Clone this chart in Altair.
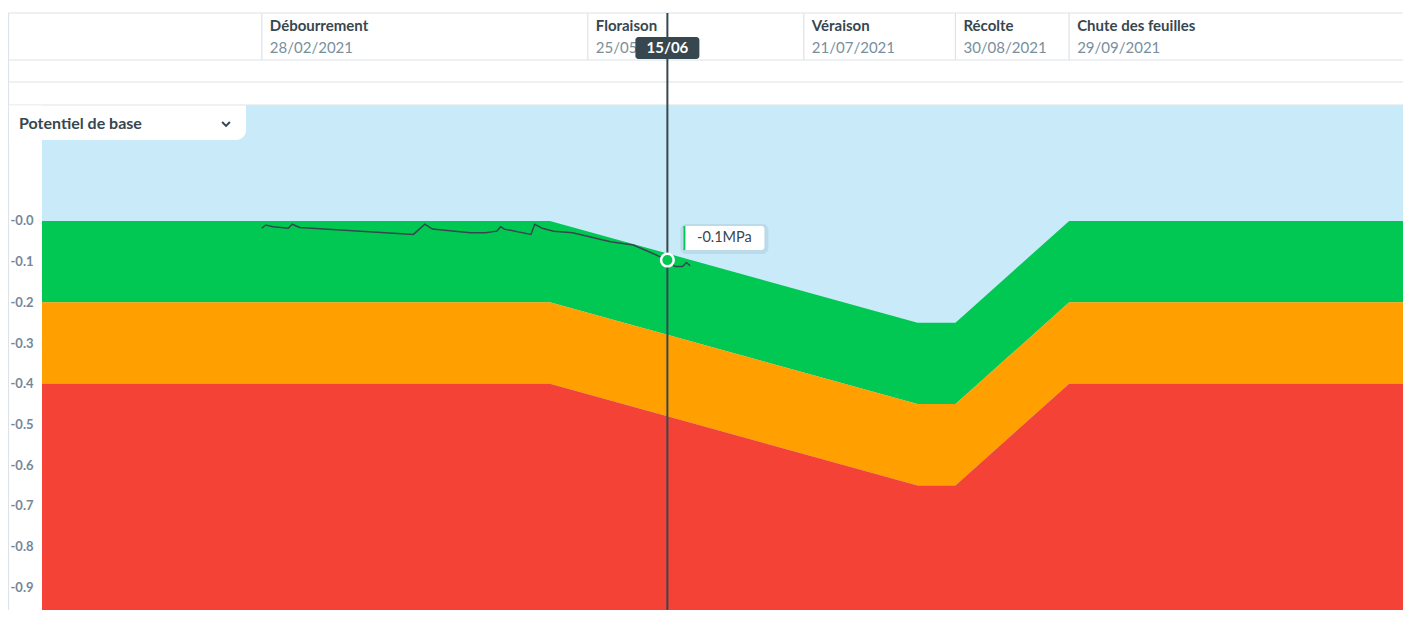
import altair as alt
import pandas as pd

# ---------------- data ----------------
zone_dates = ["2021-01-01", "2021-05-15", "2021-08-20", "2021-08-30", "2021-09-29", "2021-12-28"]
green_top = [0.0, 0.0, -0.25, -0.25, 0.0, 0.0]
orange_top = [-0.2, -0.2, -0.45, -0.45, -0.2, -0.2]
red_top = [-0.4, -0.4, -0.65, -0.65, -0.4, -0.4]
red_bottom = [-1.0, -1.0, -1.0, -1.0, -1.0, -1.0]

stage_names = ["Débourrement", "Floraison", "Véraison", "Récolte", "Chute des feuilles"]
stage_dates = ["2021-02-28", "2021-05-25", "2021-07-21", "2021-08-30", "2021-09-29"]
stage_labels = ["28/02/2021", "25/05/2021", "21/07/2021", "30/08/2021", "29/09/2021"]

pot_dates = ["2021-02-28", "2021-03-01", "2021-03-03", "2021-03-07", "2021-03-08", "2021-03-10",
             "2021-04-09", "2021-04-12", "2021-04-14", "2021-04-24", "2021-04-28", "2021-05-01",
             "2021-05-02", "2021-05-03", "2021-05-10", "2021-05-11", "2021-05-13", "2021-05-16",
             "2021-05-21", "2021-05-31", "2021-06-06", "2021-06-10", "2021-06-15", "2021-06-17",
             "2021-06-19", "2021-06-20", "2021-06-21"]
pot_values = [-0.018, -0.010, -0.014, -0.018, -0.008, -0.016,
              -0.033, -0.008, -0.020, -0.029, -0.029, -0.025,
              -0.014, -0.020, -0.033, -0.008, -0.018, -0.025,
              -0.029, -0.051, -0.059, -0.075, -0.096, -0.112,
              -0.112, -0.102, -0.110]

cursor_dates = ["2021-06-15"]
cursor_labels = ["15/06"]
cursor_values = [-0.096]
cursor_texts = ["-0.1MPa"]

y_ticks = [-0.9, -0.8, -0.7, -0.6, -0.5, -0.4, -0.3, -0.2, -0.1, 0.0]
selector_label = ["Potentiel de base"]

# ---------------- styling ----------------
FONT = "Lato"
DARK = "#37474f"
GREY = "#78909c"
LINE = "#dde3e8"
SKY = "#c9eaf9"
W, H = 1361, 505

zones = pd.DataFrame({"date": zone_dates, "g": green_top, "o": orange_top, "r": red_top, "b": red_bottom})
stages = pd.DataFrame({"date": stage_dates, "name": stage_names, "label": stage_labels})
pot = pd.DataFrame({"date": pot_dates, "v": pot_values})
cur = pd.DataFrame({"date": cursor_dates, "label": cursor_labels, "v": cursor_values, "txt": cursor_texts})
one = pd.DataFrame({"label": selector_label})

xscale = alt.Scale(type="utc", nice=False,
                   domain=[alt.DateTime(year=2021, month=1, date=1, utc=True),
                           alt.DateTime(year=2021, month=12, date=26, hours=2, utc=True)])
yscale = alt.Scale(domain=[-0.956, 0.285], nice=False, zero=False)
yaxis = alt.Axis(values=y_ticks, labelExpr="'-' + format(abs(datum.value), '.1f')",
                 ticks=False, domain=False, grid=False, title=None,
                 labelAlign="left", labelPadding=32, labelFont=FONT, labelFontSize=13,
                 labelFontWeight="bold", labelColor="#74879a")


def X(f="date"):
    return alt.X(f + ":T", scale=xscale, axis=None)


def Y(f):
    return alt.Y(f + ":Q", scale=yscale, axis=yaxis)


sky = alt.Chart(one).mark_rect(color=SKY).encode(
    x=alt.value(0), x2=alt.value(W), y=alt.value(0), y2=alt.value(H))


def band(top, bot, color):
    return alt.Chart(zones).mark_area(color=color, clip=True, interpolate="linear").encode(
        x=X(), y=Y(top), y2=bot)


green = band("g", "o", "#00c853")
orange = band("o", "r", "#ffa000")
red = band("r", "b", "#f44336")


def hline(ypix):
    return alt.Chart(one).mark_rule(color=LINE, strokeWidth=1.2).encode(
        x=alt.value(-33.5), x2=alt.value(W), y=alt.value(ypix))


hlines = [hline(-92), hline(-45), hline(-23), hline(0)]
left_border = alt.Chart(one).mark_rule(color=LINE, strokeWidth=1.2).encode(
    x=alt.value(-33.5), y=alt.value(-92), y2=alt.value(H))

col_lines = alt.Chart(stages).mark_rule(color=LINE, strokeWidth=1.2).encode(
    x=X(), y=alt.value(-92), y2=alt.value(-45))
stage_name_txt = alt.Chart(stages).mark_text(
    align="left", baseline="middle", dx=8, font=FONT, fontSize=15, fontWeight="bold", color=DARK
).encode(x=X(), y=alt.value(-79), text="name:N")
stage_date_txt = alt.Chart(stages).mark_text(
    align="left", baseline="middle", dx=8, font=FONT, fontSize=15, color=GREY
).encode(x=X(), y=alt.value(-57), text="label:N")

pot_line = alt.Chart(pot).mark_line(color=DARK, strokeWidth=1.5).encode(x=X(), y=Y("v"))

cursor_rule = alt.Chart(cur).mark_rule(color=DARK, strokeWidth=2).encode(
    x=X(), y=alt.value(-92), y2=alt.value(H))
cursor_box = alt.Chart(cur).mark_rect(color=DARK, xOffset=-32, x2Offset=32, cornerRadius=3).encode(
    x=X(), x2="date:T", y=alt.value(-68), y2=alt.value(-46))
cursor_txt = alt.Chart(cur).mark_text(
    align="center", baseline="middle", font=FONT, fontSize=15, fontWeight="bold", color="white"
).encode(x=X(), y=alt.value(-57), text="label:N")

point = alt.Chart(cur).mark_point(filled=True, size=160, color="#00c853", stroke="white",
                                  strokeWidth=2.5, opacity=1).encode(x=X(), y=Y("v"))

tip_shadow = alt.Chart(cur).mark_rect(color="#8aa4b4", opacity=0.22, xOffset=13, x2Offset=101,
                                      yOffset=-36, y2Offset=-6, cornerRadius=6).encode(
    x=X(), x2="date:T", y=Y("v"), y2="v:Q")
tip_box = alt.Chart(cur).mark_rect(color="white", xOffset=16, x2Offset=97,
                                   yOffset=-34, y2Offset=-10, cornerRadius=3).encode(
    x=X(), x2="date:T", y=Y("v"), y2="v:Q")
tip_bar = alt.Chart(cur).mark_rect(color="#00c853", xOffset=16, x2Offset=18,
                                   yOffset=-34, y2Offset=-10).encode(
    x=X(), x2="date:T", y=Y("v"), y2="v:Q")
tip_txt = alt.Chart(cur).mark_text(
    align="center", baseline="middle", dx=57, dy=-22, font=FONT, fontSize=14.5, color=DARK
).encode(x=X(), y=Y("v"), text="txt:N")

sel_box = alt.Chart(one).mark_rect(color="white", cornerRadiusBottomRight=10).encode(
    x=alt.value(-33), x2=alt.value(204), y=alt.value(0.6), y2=alt.value(35))
sel_txt = alt.Chart(one).mark_text(
    align="left", baseline="middle", font=FONT, fontSize=16, fontWeight="bold", color=DARK
).encode(x=alt.value(-23), y=alt.value(19), text="label:N")
sel_chev = alt.Chart(one).mark_point(shape="M-1,-0.5L0,0.5L1,-0.5", filled=False, size=60,
                                     strokeWidth=2, color=DARK, opacity=1).encode(
    x=alt.value(184), y=alt.value(19))

chart = alt.layer(
    sky, green, orange, red, *hlines, left_border, col_lines, stage_name_txt, stage_date_txt,
    pot_line, cursor_rule, cursor_box, cursor_txt, point,
    tip_shadow, tip_box, tip_bar, tip_txt, sel_box, sel_txt, sel_chev
).properties(
    width=W, height=H,
    autosize=alt.AutoSizeParams(type="none"),
    padding={"left": 34, "top": 97, "right": 0, "bottom": 0},
    background="white",
).configure_view(strokeWidth=0).configure(font=FONT)

chart.save("out.html", embed_options={"renderer": "svg", "actions": False})
